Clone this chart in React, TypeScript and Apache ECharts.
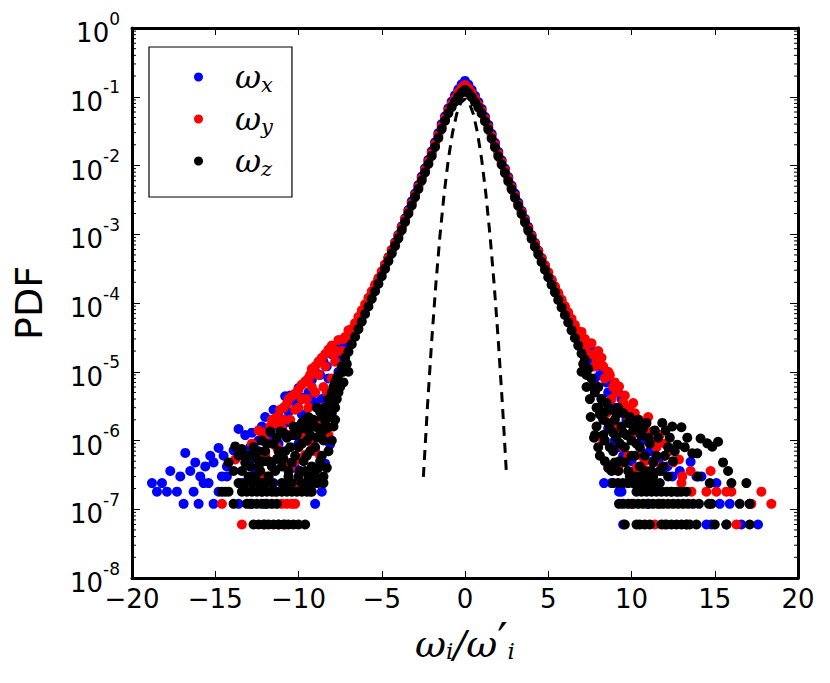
import React, { useEffect, useRef } from "react";
import * as echarts from "echarts";

// ---------- axis ticks ----------
const xTickValues = [-20, -15, -10, -5, 0, 5, 10, 15, 20];
const yDecadeExps = [-8, -7, -6, -5, -4, -3, -2, -1, 0];
const minorMultipliers = [2, 3, 4, 5, 6, 7, 8, 9];

// ---------- core of the PDFs (x = -7 ... 7, step 0.2) ----------
const coreX = [
  -7.0, -6.8, -6.6, -6.4, -6.2, -6.0, -5.8, -5.6, -5.4, -5.2, -5.0, -4.8, -4.6, -4.4, -4.2, -4.0, -3.8, -3.6,
  -3.4, -3.2, -3.0, -2.8, -2.6, -2.4, -2.2, -2.0, -1.8, -1.6, -1.4, -1.2, -1.0, -0.8, -0.6, -0.4, -0.2,
  0.0,
  0.2, 0.4, 0.6, 0.8, 1.0, 1.2, 1.4, 1.6, 1.8, 2.0, 2.2, 2.4, 2.6, 2.8, 3.0, 3.2, 3.4, 3.6, 3.8, 4.0,
  4.2, 4.4, 4.6, 4.8, 5.0, 5.2, 5.4, 5.6, 5.8, 6.0, 6.2, 6.4, 6.6, 6.8, 7.0,
];

const wxCore = [
  2.7e-5, 3.4e-5, 4.2e-5, 5.3e-5, 6.7e-5, 8.4e-5, 1.06e-4, 1.35e-4, 1.7e-4, 2.2e-4, 2.8e-4, 3.6e-4, 4.6e-4,
  5.9e-4, 7.6e-4, 9.8e-4, 1.3e-3, 1.7e-3, 2.25e-3, 3.0e-3, 3.9e-3, 5.2e-3, 6.9e-3, 9.1e-3, 1.21e-2, 1.61e-2,
  2.18e-2, 2.95e-2, 4.0e-2, 5.2e-2, 6.8e-2, 8.5e-2, 0.105, 0.128, 0.152,
  0.17,
  0.15, 0.126, 0.103, 0.084, 0.067, 0.051, 0.039, 0.029, 0.0214, 0.0158, 0.0119, 0.009, 0.0068, 0.0051,
  0.0039, 0.0029, 0.0022, 1.68e-3, 1.28e-3, 9.7e-4, 7.5e-4, 5.8e-4, 4.5e-4, 3.5e-4, 2.75e-4, 2.15e-4,
  1.68e-4, 1.32e-4, 1.04e-4, 8.2e-5, 6.5e-5, 5.1e-5, 4.0e-5, 3.2e-5, 2.5e-5,
];

const wyCore = [
  3.5e-5, 4.2e-5, 5.1e-5, 6.3e-5, 7.8e-5, 9.6e-5, 1.19e-4, 1.48e-4, 1.85e-4, 2.3e-4, 2.9e-4, 3.65e-4, 4.6e-4,
  5.9e-4, 7.5e-4, 9.6e-4, 1.25e-3, 1.63e-3, 2.15e-3, 2.8e-3, 3.7e-3, 4.9e-3, 6.5e-3, 8.6e-3, 1.14e-2, 1.51e-2,
  2.04e-2, 2.75e-2, 3.7e-2, 4.9e-2, 6.3e-2, 7.8e-2, 9.5e-2, 0.115, 0.135,
  0.148,
  0.134, 0.114, 0.094, 0.077, 0.062, 0.048, 0.036, 0.027, 0.02, 0.0148, 0.0112, 0.0085, 0.0064, 0.0048,
  0.0036, 0.0027, 0.0021, 1.6e-3, 1.22e-3, 9.4e-4, 7.3e-4, 5.7e-4, 4.5e-4, 3.55e-4, 2.8e-4, 2.2e-4,
  1.75e-4, 1.4e-4, 1.12e-4, 9.0e-5, 7.3e-5, 5.9e-5, 4.8e-5, 3.9e-5, 3.2e-5,
];

const wzCore = [
  1.95e-5, 2.51e-5, 3.24e-5, 4.17e-5, 5.37e-5, 6.92e-5, 8.91e-5, 1.15e-4, 1.48e-4, 1.91e-4, 2.45e-4, 3.16e-4,
  4.07e-4, 5.25e-4, 6.76e-4, 8.71e-4, 1.15e-3, 1.51e-3, 2.0e-3, 2.63e-3, 3.47e-3, 4.57e-3, 6.03e-3, 7.94e-3,
  1.05e-2, 1.38e-2, 1.86e-2, 2.51e-2, 3.39e-2, 4.47e-2, 5.75e-2, 7.08e-2, 8.51e-2, 0.1, 0.115,
  0.126,
  0.114, 0.099, 0.084, 0.07, 5.7e-2, 4.4e-2, 3.35e-2, 2.48e-2, 1.84e-2, 1.36e-2, 1.03e-2, 7.8e-3, 5.9e-3,
  4.5e-3, 3.4e-3, 2.6e-3, 1.97e-3, 1.49e-3, 1.13e-3, 8.6e-4, 6.6e-4, 5.1e-4, 3.95e-4, 3.05e-4, 2.37e-4,
  1.84e-4, 1.43e-4, 1.11e-4, 8.6e-5, 6.7e-5, 5.2e-5, 4.0e-5, 3.1e-5, 2.4e-5, 1.85e-5,
];

// ---------- tails (scattered bins), [x, pdf] ----------
const wxTail: [number, number][] = [
  [-7.2, 2.4e-5], [-7.5, 2.5e-5], [-7.6, 1e-5], [-7.8, 5e-6], [-8.0, 1.8e-5], [-8.2, 8e-6], [-8.5, 1.4e-5],
  [-8.6, 4e-6], [-8.8, 3e-6], [-8.9, 3.5e-6], [-9.0, 1e-5], [-9.2, 7.6e-6], [-9.2, 4e-6], [-9.5, 7.5e-6],
  [-9.8, 2.4e-6], [-10.0, 5.8e-6], [-10.3, 1.2e-6], [-10.5, 4.5e-6], [-10.8, 4.4e-6], [-10.8, 1.8e-6],
  [-11.0, 2e-6], [-11.2, 9e-7], [-11.5, 2.8e-6], [-11.8, 1.2e-6], [-12.0, 2.2e-6], [-12.2, 1.6e-6],
  [-12.2, 3e-7], [-12.5, 6e-7], [-12.8, 1.3e-6], [-12.9, 1.2e-7], [-13.2, 1.2e-6], [-13.4, 2.4e-7],
  [-13.6, 1.47e-6], [-13.6, 1.2e-7], [-13.9, 7.2e-7], [-14.3, 4.2e-7], [-14.3, 3e-7], [-14.5, 6e-7],
  [-14.6, 3e-7], [-14.8, 7.8e-7], [-14.8, 1.8e-7], [-15.1, 4.8e-7], [-15.1, 1.2e-7], [-15.3, 6e-7],
  [-15.4, 2.4e-7], [-15.6, 4.2e-7], [-15.7, 2.4e-7], [-15.9, 3e-7], [-16.0, 1.2e-7], [-16.2, 4.8e-7],
  [-16.3, 1.8e-7], [-16.5, 3.6e-7], [-16.8, 6.6e-7], [-16.9, 1.2e-7], [-17.1, 3e-7], [-17.3, 1.8e-7],
  [-17.7, 3.6e-7], [-17.9, 1.8e-7], [-18.2, 2.4e-7], [-18.5, 1.8e-7], [-18.8, 2.4e-7], [-9.0, 1.2e-7],
  [-8.6, 1.8e-7], [-8.4, 4.6e-7], [-8.1, 8.8e-7], [-9.6, 6e-7], [-10.2, 4e-7], [-11.5, 2.4e-7], [-12.0, 1.2e-7],
  [-7.0, 3e-5], [-7.3, 1.8e-5], [-7.7, 1.5e-5], [-8.3, 1.2e-5], [-8.7, 9e-6], [-9.4, 5e-6], [-9.8, 4.2e-6],
  [-10.2, 3.6e-6], [-10.6, 2.6e-6], [-11.2, 2.2e-6], [-11.6, 1.6e-6], [-12.4, 1.0e-6], [-12.9, 8e-7],
  [-13.3, 6e-7], [-10.0, 9e-7], [-11.0, 6e-7], [-12.6, 3.6e-7], [-13.0, 4.8e-7],
  [7.2, 2.2e-5], [7.4, 1.5e-5], [7.6, 2e-5], [7.8, 8e-6], [8.0, 1.4e-5], [8.2, 1.2e-5], [8.2, 4e-6],
  [8.35, 2.4e-7], [8.5, 7e-6], [8.65, 4.2e-7], [8.8, 7e-6], [8.8, 2.4e-7], [9.0, 1e-6], [9.0, 3e-6],
  [9.25, 1.8e-7], [9.4, 4e-6], [9.4, 1.8e-7], [9.5, 6e-7], [9.5, 6e-8], [9.7, 2e-6], [10.0, 2.2e-6],
  [10.0, 5e-7], [10.35, 1.3e-6], [10.7, 6.5e-7], [10.95, 1e-6], [11.3, 5e-7], [11.85, 3.6e-7], [12.15, 4.2e-7],
  [12.45, 3e-7], [13.55, 4.9e-7], [13.9, 3e-7], [14.2, 3e-7], [14.5, 6e-8], [14.8, 6e-8], [15.1, 2.4e-7],
  [15.3, 1.2e-7], [15.7, 6e-8], [15.9, 1.2e-7], [16.6, 6e-8], [17.1, 1.2e-7], [17.6, 6e-8], [11.0, 1.2e-7],
  [12.8, 1.8e-7], [10.4, 2.4e-7],
  [7.0, 2.8e-5], [7.3, 1.8e-5], [7.7, 1.2e-5], [8.1, 9e-6], [8.6, 5e-6], [9.2, 5e-6], [9.6, 3e-6],
  [10.2, 1.8e-6], [10.6, 1e-6], [11.1, 7e-7], [11.6, 5e-7], [12.9, 3.6e-7], [8.6, 1.5e-6], [9.2, 8e-7],
  [10.2, 3.6e-7],
];

const wyTail: [number, number][] = [
  [-7.2, 3.2e-5], [-7.4, 2e-5], [-7.6, 2.9e-5], [-7.8, 1.4e-5], [-8.0, 2.4e-5], [-8.0, 8e-6], [-8.2, 2.1e-5],
  [-8.3, 5e-6], [-8.4, 1.2e-5], [-8.6, 1.6e-5], [-8.6, 3e-6], [-8.8, 9e-6], [-9.0, 1.2e-5], [-9.0, 1.8e-6],
  [-9.2, 6e-6], [-9.3, 9e-6], [-9.4, 3e-6], [-9.6, 7.2e-6], [-9.6, 6.2e-7], [-9.8, 4e-6], [-10.0, 5.5e-6],
  [-10.0, 1.6e-6], [-10.2, 2.8e-6], [-10.4, 4.4e-6], [-10.5, 3.9e-7], [-10.6, 1.2e-6], [-10.7, 3.4e-6],
  [-10.9, 2e-6], [-11.1, 2.8e-6], [-11.3, 8e-7], [-11.4, 1.8e-6], [-11.7, 1.6e-6], [-11.9, 5e-7],
  [-12.0, 1e-6], [-12.4, 1.4e-6], [-12.6, 6e-7], [-12.8, 9e-7], [-13.8, 5.3e-7], [-8.2, 1.2e-6],
  [-8.7, 6e-7], [-9.2, 9e-7], [-10.2, 5e-7], [-8.8, 2.4e-7], [-10.0, 2.4e-7], [-12.0, 3e-7],
  [-12.2, 1.8e-7], [-9.3, 1.8e-7], [-11.4, 1.8e-7], [-14.6, 1.2e-7], [-11.0, 1.2e-7], [-10.7, 1.2e-7],
  [-10.4, 1.2e-7], [-10.2, 1.2e-7], [-13.4, 6e-8], [-11.2, 6e-8], [-10.8, 6e-8], [-12.0, 6e-8],
  [-7.0, 4e-5], [-7.3, 3e-5], [-7.7, 2e-5], [-7.9, 1.8e-5], [-8.4, 1.8e-5], [-8.8, 1.4e-5], [-9.2, 1.1e-5],
  [-9.4, 8e-6], [-9.8, 6.5e-6], [-10.2, 4.8e-6], [-10.6, 4e-6], [-10.9, 3e-6], [-11.3, 2.2e-6], [-11.6, 2e-6],
  [-12.2, 1.3e-6], [-8.5, 6e-6], [-9.0, 5e-6], [-9.5, 4e-6], [-10.0, 3e-6], [-10.5, 2e-6], [-11.0, 1.5e-6],
  [-11.6, 9e-7], [-12.0, 6e-7], [-10.8, 4.2e-7], [-11.8, 3e-7], [-9.8, 1.2e-6], [-9.0, 7e-7],
  [7.2, 3e-5], [7.4, 1.8e-5], [7.6, 2.6e-5], [7.8, 1.2e-5], [8.0, 2e-5], [8.0, 6e-6], [8.2, 1.6e-5],
  [8.4, 8e-6], [8.5, 2.5e-6], [8.7, 9e-6], [8.8, 4e-6], [9.0, 1.5e-6], [9.0, 7e-6], [9.25, 6.1e-6],
  [9.4, 3e-6], [9.5, 8e-7], [9.6, 4.5e-6], [9.85, 2.9e-6], [10.0, 1.2e-6], [10.1, 3.5e-6], [10.45, 2e-6],
  [10.6, 6e-7], [10.8, 1.6e-6], [11.0, 2.2e-6], [11.25, 1.35e-6], [11.45, 9.6e-7], [11.7, 1.2e-6],
  [12.0, 9e-7], [12.25, 7e-7], [12.85, 5.3e-7], [13.05, 3e-7], [13.55, 3.6e-7], [14.75, 3.6e-7], [8.3, 1e-6],
  [9.2, 4e-7], [11.0, 3.6e-7], [10.3, 4e-7], [12.4, 1.8e-7], [14.5, 1.8e-7], [15.1, 1.8e-7], [15.7, 1.8e-7],
  [16.0, 1.8e-7], [17.8, 1.8e-7], [10.0, 1.2e-7], [11.7, 1.2e-7], [17.2, 1.2e-7], [18.4, 1.2e-7],
  [11.4, 6e-8], [13.3, 6e-8], [16.3, 6e-8], [12.0, 6e-8],
  [7.0, 3.8e-5], [7.3, 2.4e-5], [7.7, 1.8e-5], [7.9, 1.5e-5], [8.3, 1.2e-5], [8.6, 1e-5], [8.9, 6e-6],
  [9.1, 5e-6], [9.5, 3.6e-6], [9.8, 2.2e-6], [10.2, 2.5e-6], [10.6, 1.6e-6], [10.9, 1.2e-6], [11.5, 8e-7],
  [12.0, 6e-7], [12.5, 4.8e-7], [9.8, 6e-7], [10.8, 5e-7], [11.8, 4.2e-7], [13.0, 2.4e-7], [13.6, 1.8e-7],
];

const wzTail: [number, number][] = [
  [-7.2, 1.6e-5], [-7.4, 1.2e-5], [-7.3, 7e-6], [-7.6, 9e-6], [-7.6, 5e-6], [-7.8, 7e-6], [-7.8, 3e-6],
  [-7.9, 1.6e-6], [-8.0, 5e-6], [-8.1, 2.2e-6], [-8.2, 4e-6], [-8.2, 7e-7], [-8.3, 1.5e-6], [-8.4, 3e-6],
  [-8.5, 1e-6], [-8.5, 3e-7], [-8.6, 2.2e-6], [-8.7, 5e-7], [-8.8, 1.5e-6], [-8.9, 3e-6], [-9.0, 8e-7],
  [-9.1, 2e-6], [-9.2, 4.2e-7], [-9.3, 1.2e-6], [-9.4, 2.2e-6], [-9.5, 6e-7], [-9.6, 1.5e-6], [-9.8, 9e-7],
  [-9.8, 1.8e-6], [-9.9, 3.6e-7], [-10.1, 1.2e-6], [-10.2, 6e-7], [-10.3, 1.6e-6], [-10.5, 8e-7],
  [-10.6, 3.6e-7], [-10.7, 1.1e-6], [-10.9, 5.4e-7], [-11.1, 1.35e-6], [-11.2, 7e-7], [-11.4, 3.6e-7],
  [-11.5, 9e-7], [-11.7, 1.35e-6], [-11.8, 5e-7], [-12.0, 7e-7], [-12.2, 1e-6], [-12.3, 3.6e-7],
  [-12.5, 5.4e-7], [-12.7, 8e-7], [-12.9, 4.2e-7], [-13.1, 6e-7], [-13.4, 7.5e-7], [-13.4, 3.6e-7],
  [-13.8, 8.2e-7], [-13.9, 3.6e-7], [-14.2, 4.8e-7], [-13.0, 3e-7], [-12.6, 3e-7], [-11.0, 4.2e-7],
  [-10.0, 3e-7], [-9.4, 3e-7],
  [-7.0, 1.0e-5], [-7.1, 1.3e-5], [-7.3, 1.0e-5], [-7.5, 6e-6], [-7.7, 4e-6], [-7.7, 8e-6], [-7.9, 6e-6],
  [-8.0, 2.5e-6], [-8.1, 3.5e-6], [-8.3, 2.5e-6], [-8.4, 1.8e-6], [-8.6, 1.3e-6], [-8.7, 2.6e-6],
  [-8.9, 1.1e-6], [-9.0, 1.6e-6], [-9.2, 1.6e-6], [-9.3, 7e-7], [-9.5, 1e-6], [-9.6, 2e-6], [-9.7, 5e-7],
  [-10.0, 1.4e-6], [-10.0, 8e-7], [-10.4, 1.2e-6], [-10.4, 4.8e-7], [-10.8, 7e-7], [-10.9, 1.3e-6],
  [-11.3, 1.1e-6], [-11.3, 5.4e-7], [-11.6, 4.2e-7], [-11.9, 9e-7], [-12.1, 5e-7], [-12.4, 7e-7],
  [-12.4, 4.2e-7], [-12.9, 6e-7], [-13.2, 4.8e-7], [-13.6, 6e-7], [-8.8, 4e-7], [-9.0, 3.6e-7], [-9.6, 3.6e-7],
  [-10.6, 3e-7], [-11.8, 3e-7], [-12.0, 2.4e-7], [-12.4, 2.4e-7], [-10.7, 2.4e-7], [-9.5, 2.4e-7],
  [-8.9, 2.4e-7], [-9.0, 3e-7], [-8.6, 6e-7], [-8.3, 4e-7], [-8.0, 1e-6], [-7.8, 2e-6],
  [-13.6, 2.4e-7], [-13.2, 2.4e-7], [-12.8, 2.4e-7], [-12.2, 2.4e-7], [-11.6, 2.4e-7], [-11.0, 2.4e-7],
  [-10.4, 2.4e-7], [-9.8, 2.4e-7], [-9.2, 2.4e-7], [-8.5, 2.4e-7],
  [-14.6, 1.8e-7], [-14.4, 1.8e-7], [-14.2, 1.8e-7], [-13.4, 1.8e-7], [-13.1, 1.8e-7], [-12.8, 1.8e-7],
  [-12.5, 1.8e-7], [-12.2, 1.8e-7], [-11.9, 1.8e-7], [-11.6, 1.8e-7], [-11.3, 1.8e-7], [-11.0, 1.8e-7],
  [-10.7, 1.8e-7], [-10.4, 1.8e-7], [-10.1, 1.8e-7], [-9.8, 1.8e-7], [-9.5, 1.8e-7], [-9.2, 1.8e-7],
  [-13.9, 1.2e-7], [-13.1, 1.2e-7], [-12.8, 1.2e-7], [-12.5, 1.2e-7], [-12.2, 1.2e-7], [-11.9, 1.2e-7],
  [-11.6, 1.2e-7], [-11.3, 1.2e-7],
  [-12.7, 6e-8], [-12.4, 6e-8], [-12.1, 6e-8], [-11.8, 6e-8], [-11.5, 6e-8], [-11.2, 6e-8], [-10.9, 6e-8],
  [-10.6, 6e-8], [-10.3, 6e-8], [-10.0, 6e-8], [-9.6, 6e-8],
  [7.2, 1.5e-5], [7.4, 1.1e-5], [7.3, 6e-6], [7.55, 2.2e-6], [7.6, 8e-6], [7.75, 1.1e-6], [7.8, 5e-6],
  [7.9, 3e-6], [8.0, 6e-6], [8.1, 6e-7], [8.2, 4e-6], [8.3, 2e-6], [8.4, 1e-6], [8.5, 3.5e-6], [8.6, 4e-7],
  [8.7, 1.5e-6], [8.8, 2.8e-6], [8.9, 7e-7], [9.0, 2e-6], [9.1, 1.1e-6], [9.2, 3e-6], [9.3, 5e-7],
  [9.4, 1.6e-6], [9.5, 2.5e-6], [9.6, 8e-7], [9.7, 1.2e-6], [9.8, 3.6e-7], [9.9, 2.2e-6], [10.0, 6e-7],
  [10.1, 1.4e-6], [10.3, 9e-7], [10.4, 2e-6], [10.5, 4.2e-7], [10.6, 1.2e-6], [10.8, 6e-7], [10.9, 1.8e-6],
  [11.1, 9e-7], [11.2, 3.6e-7], [11.4, 1.4e-6], [11.5, 6e-7], [11.85, 1.8e-6], [12.05, 1.4e-6],
  [11.9, 4.2e-7], [12.2, 8e-7], [12.45, 1.6e-6], [12.5, 5e-7], [12.75, 8.7e-7], [13.0, 1.56e-6],
  [13.35, 1.1e-6], [13.65, 6.5e-7], [13.95, 6.5e-7], [14.15, 1.07e-6], [14.55, 9.1e-7], [14.85, 8.1e-7],
  [15.2, 9.6e-7], [15.5, 4.8e-7], [15.8, 3.6e-7], [14.0, 3e-7], [10.2, 3e-7], [11.0, 3e-7],
  [7.0, 1.0e-5], [7.1, 1.3e-5], [7.3, 9e-6], [7.5, 4e-6], [7.7, 6e-6], [7.9, 1.6e-6], [8.0, 3e-6],
  [8.1, 2.4e-6], [8.3, 1.2e-6], [8.4, 2.6e-6], [8.6, 1.8e-6], [8.7, 8e-7], [8.9, 1.3e-6], [9.0, 4.8e-7],
  [9.1, 2.4e-6], [9.3, 9e-7], [9.5, 1.3e-6], [9.6, 4.8e-7], [9.8, 1.8e-6], [10.0, 1e-6], [10.2, 6e-7],
  [10.3, 1.6e-6], [10.5, 8e-7], [10.7, 1.5e-6], [10.8, 3.6e-7], [11.0, 1.1e-6], [11.3, 4.8e-7],
  [11.6, 1.1e-6], [11.7, 3.6e-7], [12.0, 6e-7], [12.3, 1.1e-6], [12.6, 7e-7], [13.2, 8e-7], [8.4, 5e-7],
  [8.8, 3.6e-7], [9.2, 3.6e-7], [9.9, 3e-7], [10.6, 3e-7], [11.3, 3e-7], [12.2, 3e-7], [8.0, 8e-7],
  [7.8, 1.2e-6],
  [8.9, 2.4e-7], [9.2, 2.4e-7], [9.5, 2.4e-7], [9.8, 2.4e-7], [10.1, 2.4e-7], [10.4, 2.4e-7], [10.7, 2.4e-7],
  [11.0, 2.4e-7], [11.3, 2.4e-7], [11.7, 2.4e-7], [14.7, 2.4e-7], [16.0, 2.4e-7], [16.9, 2.4e-7],
  [10.3, 1.8e-7], [10.6, 1.8e-7], [10.9, 1.8e-7], [11.2, 1.8e-7], [11.5, 1.8e-7], [11.8, 1.8e-7],
  [12.1, 1.8e-7], [12.4, 1.8e-7], [12.7, 1.8e-7], [13.0, 1.8e-7], [13.3, 1.8e-7],
  [9.25, 1.2e-7], [9.5, 1.2e-7], [9.8, 1.2e-7], [10.1, 1.2e-7], [10.4, 1.2e-7], [10.7, 1.2e-7], [11.0, 1.2e-7],
  [11.3, 1.2e-7], [11.6, 1.2e-7], [11.9, 1.2e-7], [12.2, 1.2e-7], [12.5, 1.2e-7], [12.8, 1.2e-7],
  [13.1, 1.2e-7], [13.4, 1.2e-7], [13.7, 1.2e-7], [14.05, 1.2e-7], [14.65, 1.2e-7], [14.8, 1.2e-7],
  [16.5, 1.2e-7], [17.1, 1.2e-7],
  [9.6, 6e-8], [10.3, 6e-8], [10.5, 6e-8], [10.8, 6e-8], [11.1, 6e-8], [11.8, 6e-8], [12.1, 6e-8],
  [12.4, 6e-8], [12.7, 6e-8], [13.0, 6e-8], [13.3, 6e-8], [13.5, 6e-8], [13.9, 6e-8], [15.0, 6e-8],
  [15.7, 6e-8], [17.1, 6e-8],
];

// ---------- Gaussian reference (dashed) ----------
const gaussX = [-2.5, -2.25, -2.0, -1.75, -1.5, -1.25, -1.0, -0.75, -0.5, -0.25, 0, 0.25, 0.5, 0.75, 1.0, 1.25, 1.5, 1.75, 2.0, 2.25, 2.5];
const gaussY = [
  2.95e-7, 3.27e-6, 2.82e-5, 1.88e-4, 9.77e-4, 3.94e-3, 1.23e-2, 2.99e-2, 5.62e-2, 8.22e-2, 9.33e-2,
  8.22e-2, 5.62e-2, 2.99e-2, 1.23e-2, 3.94e-3, 9.77e-4, 1.88e-4, 2.82e-5, 3.27e-6, 2.95e-7,
];

const seriesNames = ["ωx", "ωy", "ωz"];
const seriesSubs = ["x", "y", "z"];
const seriesColors = ["#0000ff", "#ff0000", "#000000"];

const FONT = "DejaVu Sans";
const MATH = "DejaVu Serif";

export default function App() {
  const ref = useRef<HTMLDivElement>(null);

  useEffect(() => {
    if (!ref.current) return;
    const chart = echarts.init(ref.current, null, { renderer: "svg" });

    const xMin = xTickValues[0];
    const xMax = xTickValues[xTickValues.length - 1];
    const yMin = Math.pow(10, yDecadeExps[0]);
    const yMax = Math.pow(10, yDecadeExps[yDecadeExps.length - 1]);

    const minorTicks: number[][] = [];
    yDecadeExps.slice(0, -1).forEach((e) =>
      minorMultipliers.forEach((m) => minorTicks.push([0, m * Math.pow(10, e)]))
    );

    const cores = [wxCore, wyCore, wzCore];
    const tails = [wxTail, wyTail, wzTail];

    const scatterSeries = seriesNames.map((name, k) => ({
      name,
      type: "scatter",
      symbol: "circle",
      symbolSize: 10,
      itemStyle: { color: seriesColors[k], opacity: 1 },
      z: 3 + k,
      data: [...coreX.map((x, i) => [x, cores[k][i]]), ...tails[k]],
    }));

    const yLabel = (v: number) => {
      const e = Math.round(Math.log10(v));
      return `{b|10}{s|${e}}`;
    };
    const yRich = {
      b: { fontSize: 26, fontFamily: FONT, color: "#000", lineHeight: 36, verticalAlign: "bottom" },
      s: { fontSize: 17, fontFamily: FONT, color: "#000", lineHeight: 17, verticalAlign: "top" },
    };
    const xFmt = (v: number) => (v < 0 ? "\u2212" + Math.abs(v) : String(v));

    const commonX = {
      type: "value",
      min: xMin,
      max: xMax,
      interval: 5,
      splitLine: { show: false },
      axisLine: { show: true, onZero: false, lineStyle: { color: "#000", width: 3 } },
      axisTick: { show: true, inside: true, length: 7, lineStyle: { color: "#000", width: 1 } },
    };
    const commonY = {
      type: "log",
      logBase: 10,
      min: yMin,
      max: yMax,
      splitNumber: 8,
      splitLine: { show: false },
      axisLine: { show: true, onZero: false, lineStyle: { color: "#000", width: 3 } },
      axisTick: { show: true, inside: true, length: 8, lineStyle: { color: "#000", width: 1 } },
    };

    chart.setOption({
      animation: false,
      backgroundColor: "#fff",
      grid: { left: 132, right: 32, top: 28, bottom: 105, containLabel: false },
      xAxis: [
        {
          ...commonX,
          position: "bottom",
          axisLabel: { formatter: xFmt, fontSize: 26, fontFamily: FONT, color: "#000", margin: 8 },
          name: "{w|ω}{s|i}{w|/ω}{p|\u2032}{s|i}",
          nameLocation: "middle",
          nameGap: 32,
          nameTextStyle: {
            rich: {
              w: { fontSize: 38, fontFamily: MATH, fontStyle: "italic", color: "#000", lineHeight: 46, verticalAlign: "bottom" },
              s: { fontSize: 23, fontFamily: MATH, fontStyle: "italic", color: "#000", lineHeight: 30, verticalAlign: "bottom" },
              p: { fontSize: 46, fontFamily: FONT, color: "#000", lineHeight: 40, verticalAlign: "top" },
            },
          },
        },
        { ...commonX, position: "top", axisLabel: { show: false } },
      ],
      yAxis: [
        {
          ...commonY,
          position: "left",
          axisLabel: { formatter: yLabel, rich: yRich, margin: 12 },
          name: "PDF",
          nameLocation: "middle",
          nameRotate: 90,
          nameGap: 84,
          nameTextStyle: { fontSize: 38, fontFamily: FONT, color: "#000" },
        },
        { ...commonY, position: "right", axisLabel: { show: false } },
      ],
      legend: {
        data: seriesNames,
        orient: "vertical",
        left: 149,
        top: 47,
        padding: [12, 19, 18, 45],
        itemGap: 6,
        itemWidth: 9,
        itemHeight: 9,
        icon: "circle",
        borderColor: "#000",
        borderWidth: 1.2,
        borderRadius: 0,
        backgroundColor: "#fff",
        formatter: (name: string) => `{w|ω}{s|${seriesSubs[seriesNames.indexOf(name)]}}`,
        textStyle: {
          lineHeight: 36,
          rich: {
            w: { fontSize: 32, fontFamily: MATH, fontStyle: "italic", color: "#000", lineHeight: 36, padding: [0, 0, 0, 27] },
            s: { fontSize: 21, fontFamily: MATH, fontStyle: "italic", color: "#000", lineHeight: 24, verticalAlign: "bottom" },
          },
        },
      },
      series: [
        {
          name: "gauss",
          type: "line",
          data: gaussX.map((x, i) => [x, gaussY[i]]),
          showSymbol: false,
          symbol: "none",
          smooth: false,
          lineStyle: { color: "#000", width: 3, type: [10, 7] },
          z: 2,
          silent: true,
        },
        ...scatterSeries,
        {
          name: "minorTicks",
          type: "custom",
          silent: true,
          z: 10,
          data: minorTicks,
          renderItem: (_params: any, api: any) => {
            const v = api.value(1);
            const pl = api.coord([xMin, v]);
            const pr = api.coord([xMax, v]);
            return {
              type: "group",
              children: [
                { type: "line", shape: { x1: pl[0], y1: pl[1], x2: pl[0] + 4, y2: pl[1] }, style: { stroke: "#000", lineWidth: 1 } },
                { type: "line", shape: { x1: pr[0] - 4, y1: pr[1], x2: pr[0], y2: pr[1] }, style: { stroke: "#000", lineWidth: 1 } },
              ],
            };
          },
        },
      ],
    });

    return () => chart.dispose();
  }, []);

  return <div ref={ref} style={{ position: "fixed", left: 0, top: 0, width: 830, height: 683 }} />;
}
